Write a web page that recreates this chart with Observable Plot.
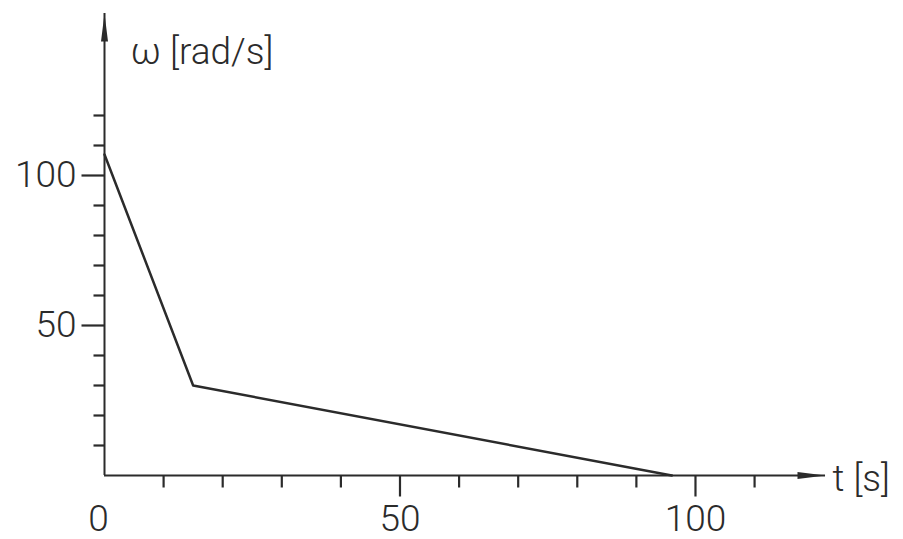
<!DOCTYPE html>
<html>
<head>
<meta charset="utf-8">
<script src="https://cdn.jsdelivr.net/npm/d3@7"></script>
<script src="https://cdn.jsdelivr.net/npm/@observablehq/plot@0.6"></script>
<style>
  html, body { margin: 0; padding: 0; background: #fff; }
  #chart svg { display: block; }
</style>
</head>
<body>
<div id="chart"></div>
<script>
// Data
const timeS = [0, 15, 96];
const omegaRadS = [107, 30, 0];
const xMinorTicks = [10, 20, 30, 40, 60, 70, 80, 90, 110];
const xMajorTicks = [50, 100];
const xTickLabels = [0, 50, 100];
const yMinorTicks = [10, 20, 30, 40, 60, 70, 80, 90, 110, 120];
const yMajorTicks = [50, 100];
const yTickLabels = [50, 100];
const yAxisTitle = "ω [rad/s]";
const xAxisTitle = "t [s]";

const series = timeS.map((t, i) => ({t, w: omegaRadS[i]}));
const ink = "#2b2b2b";
const font = "Roboto, 'DejaVu Sans', sans-serif";

// arrowhead symbols (tip at the dot's position)
const arrowUp = { draw(ctx) { ctx.moveTo(0, 0); ctx.lineTo(-3.5, 28); ctx.lineTo(3.5, 28); ctx.closePath(); } };
const arrowRight = { draw(ctx) { ctx.moveTo(0, 0); ctx.lineTo(-28, -3.5); ctx.lineTo(-28, 3.5); ctx.closePath(); } };
// tick symbols (start on the axis line)
const tickDown = len => ({ draw(ctx) { ctx.moveTo(0, 0); ctx.lineTo(0, len); } });
const tickLeft = len => ({ draw(ctx) { ctx.moveTo(0, 0); ctx.lineTo(-len, 0); } });

const xMax = 122, yMax = 154;
const labelStyle = { fontSize: 37, fontWeight: 300, fill: ink, fontFamily: font };
const tickStyle = { fill: "none", stroke: ink, strokeWidth: 2.2, r: 3 };

const chart = Plot.plot({
  width: 903,
  height: 539,
  marginLeft: 104,
  marginRight: 78,
  marginTop: 13,
  marginBottom: 64,
  style: { fontFamily: font, background: "#fff", color: ink },
  x: { domain: [0, xMax], axis: null },
  y: { domain: [0, yMax], axis: null },
  marks: [
    // axes lines
    Plot.ruleX([0], { y1: 0, y2: yMax, stroke: ink, strokeWidth: 2 }),
    Plot.ruleY([0], { x1: 0, x2: xMax, stroke: ink, strokeWidth: 2 }),
    Plot.dot([{x: 0, y: yMax}], { x: "x", y: "y", symbol: arrowUp, fill: ink, stroke: "none", r: 3 }),
    Plot.dot([{x: xMax, y: 0}], { x: "x", y: "y", symbol: arrowRight, fill: ink, stroke: "none", r: 3 }),
    // ticks
    Plot.dot(xMinorTicks, { x: d => d, y: 0, symbol: tickDown(12), ...tickStyle }),
    Plot.dot(xMajorTicks, { x: d => d, y: 0, symbol: tickDown(21), ...tickStyle }),
    Plot.dot(yMinorTicks, { x: 0, y: d => d, symbol: tickLeft(11), ...tickStyle }),
    Plot.dot(yMajorTicks, { x: 0, y: d => d, symbol: tickLeft(23), ...tickStyle }),
    // tick labels
    Plot.text(xTickLabels.filter(d => d === 0), { x: d => d, y: 0, text: d => String(d), dy: 44, dx: -6, ...labelStyle }),
    Plot.text(xTickLabels.filter(d => d !== 0), { x: d => d, y: 0, text: d => String(d), dy: 44, ...labelStyle }),
    Plot.text(yTickLabels, { x: 0, y: d => d, text: d => String(d), dx: -28, textAnchor: "end", ...labelStyle }),
    // axis titles
    Plot.text([yAxisTitle], { frameAnchor: "top-left", text: d => d, dx: 26, dy: 39, lineAnchor: "middle", textAnchor: "start", ...labelStyle }),
    Plot.text([xAxisTitle], { frameAnchor: "bottom-right", text: d => d, dx: 7, dy: 4, lineAnchor: "middle", textAnchor: "start", ...labelStyle }),
    // data line
    Plot.line(series, { x: "t", y: "w", stroke: ink, strokeWidth: 2.5 })
  ]
});
document.getElementById("chart").appendChild(chart);
</script>
</body>
</html>
